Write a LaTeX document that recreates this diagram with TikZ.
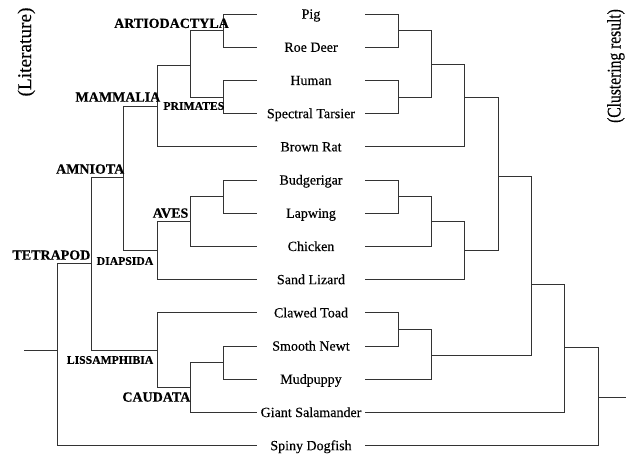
\documentclass[tikz,border=0pt]{standalone}
\usepackage{fontspec}
\setmainfont{Liberation Serif}
\newfontfamily\leaffont[FakeBold=0.35]{Liberation Serif}
\newfontfamily\taxonfont[FakeBold=0.5]{Liberation Serif Bold}
\begin{document}
\begin{tikzpicture}[x=1bp,y=-1bp,
  tree/.style={draw=black!80, line width=0.75bp},
  leaf/.style={minimum width=108bp, inner sep=0pt, text height=9.2bp, text depth=0pt,
    font=\leaffont\fontsize{14bp}{16bp}\selectfont},
  bigtaxon/.style={anchor=east, inner sep=0pt, text height=9.3bp, text depth=0pt,
    font=\taxonfont\fontsize{14bp}{16bp}\selectfont},
  smalltaxon/.style={anchor=east, inner sep=0pt, text height=7.7bp, text depth=0pt,
    font=\taxonfont\fontsize{11.7bp}{13bp}\selectfont},
  sidelabel/.style={rotate=90, anchor=base, inner sep=0pt,
    font=\leaffont\fontsize{19.3bp}{21bp}\selectfont}]
\useasboundingbox (0,0) rectangle (626,455);

% leaves
\node[leaf] (pig)   at (311,14)    {Pig};
\node[leaf] (roe)   at (311,47.2)  {Roe Deer};
\node[leaf] (hum)   at (311,80.4)  {Human};
\node[leaf] (tar)   at (311,113.6) {Spectral Tarsier};
\node[leaf] (rat)   at (311,146.8) {Brown Rat};
\node[leaf] (bud)   at (311,180)   {Budgerigar};
\node[leaf] (lap)   at (311,213.2) {Lapwing};
\node[leaf] (chi)   at (311,246.4) {Chicken};
\node[leaf] (liz)   at (311,279.6) {Sand Lizard};
\node[leaf] (toad)  at (311,312.8) {Clawed Toad};
\node[leaf] (newt)  at (311,346)   {Smooth Newt};
\node[leaf] (mud)   at (311,379.2) {Mudpuppy};
\node[leaf] (sal)   at (311,412.4) {Giant Salamander};
\node[leaf] (dog)   at (311,445.6) {Spiny Dogfish};

% left tree (literature)
\coordinate (a1)  at (223,30.6);
\coordinate (a2)  at (223,97);
\coordinate (a3)  at (190,65);
\coordinate (a4)  at (157,106);
\coordinate (a5)  at (223,196.6);
\coordinate (a6)  at (190,221.5);
\coordinate (a7)  at (157,250.5);
\coordinate (a8)  at (123,177);
\coordinate (a9)  at (223,362.6);
\coordinate (a10) at (190,387.5);
\coordinate (a11) at (157,350);
\coordinate (a12) at (91,263.5);
\coordinate (a13) at (57,350);
\coordinate (rootL) at (24,350);

\draw[tree] (a1) |- (pig.west);  \draw[tree] (a1) |- (roe.west);
\draw[tree] (a2) |- (hum.west);  \draw[tree] (a2) |- (tar.west);
\draw[tree] (a3) |- (a1);        \draw[tree] (a3) |- (a2);
\draw[tree] (a4) |- (a3);        \draw[tree] (a4) |- (rat.west);
\draw[tree] (a5) |- (bud.west);  \draw[tree] (a5) |- (lap.west);
\draw[tree] (a6) |- (a5);        \draw[tree] (a6) |- (chi.west);
\draw[tree] (a7) |- (a6);        \draw[tree] (a7) |- (liz.west);
\draw[tree] (a8) |- (a4);        \draw[tree] (a8) |- (a7);
\draw[tree] (a9) |- (newt.west); \draw[tree] (a9) |- (mud.west);
\draw[tree] (a10) |- (a9);       \draw[tree] (a10) |- (sal.west);
\draw[tree] (a11) |- (toad.west);\draw[tree] (a11) |- (a10);
\draw[tree] (a12) |- (a8);       \draw[tree] (a12) |- (a11);
\draw[tree] (a13) |- (a12);      \draw[tree] (a13) |- (dog.west);
\draw[tree] (rootL) -- (a13);

% taxon labels
\node[bigtaxon]   (tArt)  at (229,23.3) {ARTIODACTYLA};
\node[smalltaxon] (tPri)  at (224.5,106) {PRIMATES};
\node[bigtaxon]   (tMam)  at (160.5,97) {MAMMALIA};
\node[bigtaxon]   (tAmn)  at (124.5,169) {AMNIOTA};
\node[bigtaxon]   (tAve)  at (188.5,213) {AVES};
\node[bigtaxon]   (tTet)  at (90.5,255) {TETRAPOD};
\node[smalltaxon] (tDia)  at (153.5,261) {DIAPSIDA};
\node[smalltaxon] (tLis)  at (153.5,360) {LISSAMPHIBIA};
\node[bigtaxon]   (tCau)  at (190.5,397) {CAUDATA};

% right tree (clustering)
\coordinate (r1)  at (398,30.6);
\coordinate (r2)  at (398,97);
\coordinate (r3)  at (431,64);
\coordinate (r4)  at (464,97);
\coordinate (r5)  at (398,196.6);
\coordinate (r6)  at (431,221.5);
\coordinate (r7)  at (464,250);
\coordinate (r8)  at (498,176);
\coordinate (r9)  at (398,329.4);
\coordinate (r10) at (431,355);
\coordinate (r11) at (531,284);
\coordinate (r12) at (564,347);
\coordinate (r13) at (598,397);
\coordinate (rootR) at (626,397);

\draw[tree] (r1) |- (pig.east);  \draw[tree] (r1) |- (roe.east);
\draw[tree] (r2) |- (hum.east);  \draw[tree] (r2) |- (tar.east);
\draw[tree] (r3) |- (r1);        \draw[tree] (r3) |- (r2);
\draw[tree] (r4) |- (r3);        \draw[tree] (r4) |- (rat.east);
\draw[tree] (r5) |- (bud.east);  \draw[tree] (r5) |- (lap.east);
\draw[tree] (r6) |- (r5);        \draw[tree] (r6) |- (chi.east);
\draw[tree] (r7) |- (r6);        \draw[tree] (r7) |- (liz.east);
\draw[tree] (r8) |- (r4);        \draw[tree] (r8) |- (r7);
\draw[tree] (r9) |- (toad.east); \draw[tree] (r9) |- (newt.east);
\draw[tree] (r10) |- (r9);       \draw[tree] (r10) |- (mud.east);
\draw[tree] (r11) |- (r8);       \draw[tree] (r11) |- (r10);
\draw[tree] (r12) |- (r11);      \draw[tree] (r12) |- (sal.east);
\draw[tree] (r13) |- (r12);      \draw[tree] (r13) |- (dog.east);
\draw[tree] (r13) -- (rootR);

% side labels
\node[sidelabel] (lit) at (31,52) {(Literature)};
\node[sidelabel] (clu) at (620.5,66) {\scalebox{0.807}[1]{(Clustering result)}};
\end{tikzpicture}
\end{document}
